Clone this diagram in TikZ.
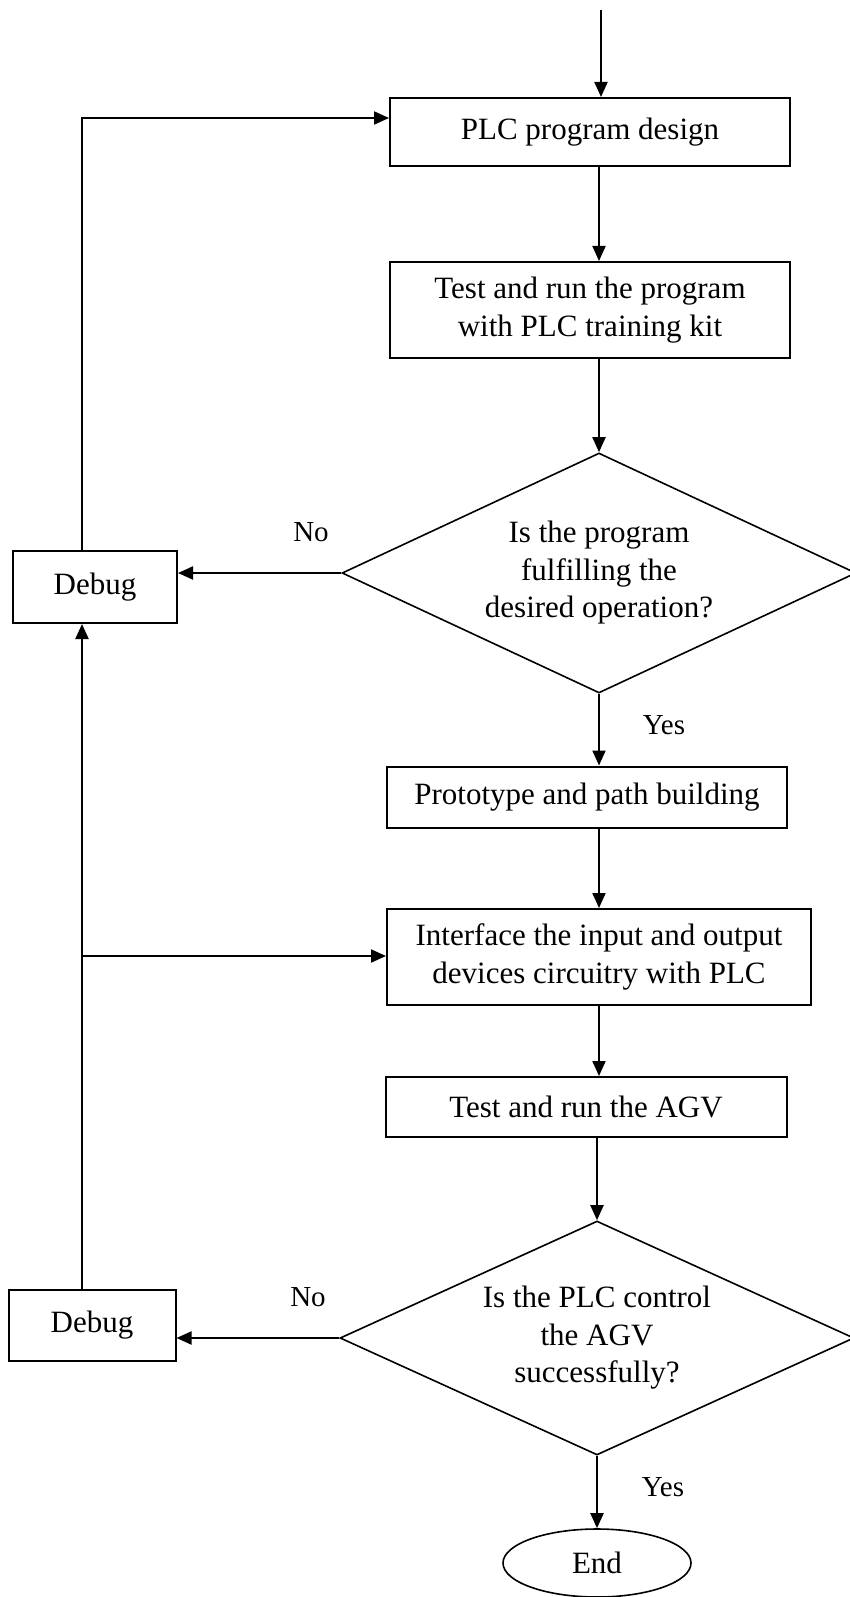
\documentclass[tikz,border=0pt]{standalone}
\usepackage{fontspec}
\setmainfont{Liberation Serif}
\usetikzlibrary{shapes.geometric,arrows.meta}

\begin{document}
\begin{tikzpicture}[x=1pt,y=-1pt,
  every node/.style={font=\fontsize{31}{37.5}\selectfont},
  proc/.style={draw,line width=2pt,rectangle,inner sep=0pt,align=center},
  decide/.style={draw,line width=1.6pt,diamond,aspect=2.2,inner sep=0pt,align=center,
                 minimum width=514pt,minimum height=240pt},
  term/.style={draw,line width=1.6pt,ellipse,inner sep=0pt,
               minimum width=188pt,minimum height=68pt},
  lbl/.style={font=\fontsize{29}{34}\selectfont,inner sep=0pt},
  link/.style={line width=2pt,-{Triangle[length=15pt,width=13pt]}}]

% page
\fill[white] (0,0) rectangle (850,1597);
\useasboundingbox (0,0) rectangle (850,1597);

% guide coordinates
\coordinate (top) at (601,10);
\coordinate (ax) at (599,0);
\coordinate (lx) at (82,0);
\coordinate (fb) at (82,118);
\coordinate (j) at (82,956);

% process steps
\node[proc,minimum width=400pt,minimum height=68pt] (b1) at (590,132) {PLC program design};
\node[proc,minimum width=400pt,minimum height=96pt] (b2) at (590,310) {Test and run the program\\with PLC training kit};
\node[decide] (d1) at (599,573) {Is the program\\fulfilling the\\desired operation?};
\node[proc,minimum width=164pt,minimum height=72pt] (g1) at (95,587) {Debug};
\node[proc,minimum width=400pt,minimum height=61pt] (b3) at (587,797) {Prototype and path building};
\node[proc,minimum width=424pt,minimum height=96pt] (b4) at (599,957) {Interface the input and output\\devices circuitry with PLC};
\node[proc,minimum width=401pt,minimum height=60pt] (b5) at (586,1107) {Test and run the AGV};
\node[decide,minimum height=234pt] (d2) at (597,1338) {Is the PLC control\\the AGV\\successfully?};
\node[proc,minimum width=167pt,minimum height=71pt] (g2) at (92,1325) {Debug};
\node[term] (end) at (597,1563) {End};

% branch labels
\node[lbl] (no1) at (311,532) {No};
\node[lbl] (yes1) at (664,725) {Yes};
\node[lbl] (no2) at (308,1297) {No};
\node[lbl] (yes2) at (663,1487) {Yes};

% main flow
\draw[link] (top) -- (b1.north -| top);
\draw[link] (b1.south -| ax) -- (b2.north -| ax);
\draw[link] (b2.south -| ax) -- (d1.north);
\draw[link] (d1.south) -- (b3.north -| d1.south);
\draw[link] (b3.south -| ax) -- (b4.north -| ax);
\draw[link] (b4.south -| ax) -- (b5.north -| ax);
\draw[link] (b5.south -| d2.north) -- (d2.north);
\draw[link] (d2.south) -- (end.north -| d2.south);

% "No" branches and debug loops
\draw[link] (d1.west) -- (g1.east |- d1.west);
\draw[link] (d2.west) -- (g2.east |- d2.west);
\draw[link] (g1.north -| lx) -- (fb) -- (b1.west |- fb);
\draw[link] (g2.north -| lx) -- (g1.south -| lx);
\draw[link] (j) -- (b4.west |- j);
\end{tikzpicture}
\end{document}
